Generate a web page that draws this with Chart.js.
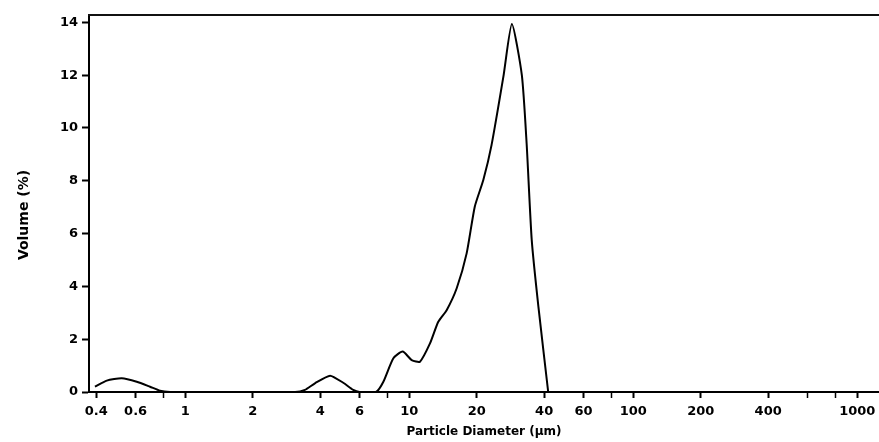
<!DOCTYPE html>
<html>
<head>
<meta charset="utf-8">
<script src="https://cdn.jsdelivr.net/npm/chart.js@4/dist/chart.umd.min.js"></script>
<style>
  html, body { margin: 0; padding: 0; background: #fff; overflow: hidden; }
  canvas { display: block; }
</style>
</head>
<body>
<canvas id="chart" width="879" height="442"></canvas>
<script>
/* Particle size distribution. */
const diameters = [
  0.395, 0.446, 0.52, 0.607, 0.696, 0.771, 0.855, 1.0,
  3.09, 3.42, 3.79, 4.43, 5.07, 5.62, 6.0,
  7.1, 7.66, 8.49, 9.34, 10.25, 11.16, 12.37, 13.47, 14.68, 16.28,
  18.03, 19.6, 21.4, 23.3, 26.3, 28.7, 31.8, 33.4, 35.2, 37.7, 41.7,
];
const volumes = [
  0.2, 0.43, 0.52, 0.39, 0.2, 0.05, 0, 0,
  0, 0.08, 0.33, 0.62, 0.35, 0.08, 0,
  0, 0.39, 1.28, 1.53, 1.21, 1.15, 1.84, 2.66, 3.1, 3.93,
  5.25, 7.02, 8.03, 9.36, 11.94, 13.94, 12.0, 9.42, 5.76, 3.23, 0,
];

const xTickValues = [0.4, 0.6, 0.8, 1, 2, 4, 6, 8, 10, 20, 40, 60, 80, 100, 200, 400, 600, 800, 1000];
const xTickLabels = ['0.4', '0.6', '', '1', '2', '4', '6', '', '10', '20', '40', '60', '', '100', '200', '400', '', '', '1000'];
const yTickValues = [0, 2, 4, 6, 8, 10, 12, 14];

const FONT = '"DejaVu Sans", "Liberation Sans", sans-serif';

/* Top frame line and the rotated y title, placed where the original has them. */
const frame = {
  id: 'frame',
  afterDraw(chart) {
    const { ctx, chartArea } = chart;
    ctx.save();
    ctx.strokeStyle = '#111';
    ctx.lineWidth = 2;
    ctx.beginPath();
    ctx.moveTo(chartArea.left - 1, chartArea.top);
    ctx.lineTo(chart.width, chartArea.top);
    ctx.stroke();

    ctx.translate(24, 215);
    ctx.rotate(-Math.PI / 2);
    ctx.fillStyle = '#000';
    ctx.font = `bold 14px ${FONT}`;
    ctx.textAlign = 'center';
    ctx.textBaseline = 'middle';
    ctx.fillText('Volume (%)', 0, 0);
    ctx.restore();
  },
};

new Chart(document.getElementById('chart'), {
  type: 'line',
  data: {
    datasets: [{
      data: diameters.map((d, i) => ({ x: d, y: volumes[i] })),
      borderColor: '#000',
      borderWidth: 2,
      pointRadius: 0,
      tension: 0.2,
      fill: false,
    }],
  },
  options: {
    responsive: false,
    animation: false,
    events: [],
    layout: { padding: { top: 15, left: 0, right: 0, bottom: 0 } },
    plugins: { legend: { display: false }, tooltip: { enabled: false } },
    scales: {
      x: {
        type: 'logarithmic',
        min: 0.3716,
        max: 1250,
        afterBuildTicks: (scale) => {
          scale.ticks = xTickValues.map((value) => ({ value }));
        },
        afterFit: (scale) => {
          scale.height = 50;
          // the plot runs right to the window edge, no room kept for labels
          scale.paddingLeft = 0;
          scale.paddingRight = 0;
        },
        border: { color: '#000', width: 2 },
        grid: {
          drawOnChartArea: false,
          tickLength: 6,
          tickColor: '#000',
          tickWidth: (c) => (xTickLabels[c.index] ? 2 : 1.5),
        },
        ticks: {
          autoSkip: false,
          maxRotation: 0,
          padding: 6,
          color: '#000',
          font: { family: FONT, size: 13, weight: 'bold' },
          callback: (value, index) => xTickLabels[index],
        },
        title: {
          display: true,
          text: 'Particle Diameter (μm)',
          color: '#000',
          font: { family: FONT, size: 12, weight: 'bold' },
          padding: { top: 0, bottom: 3 },
        },
      },
      y: {
        min: 0,
        max: 14.28,
        afterBuildTicks: (scale) => {
          scale.ticks = yTickValues.map((value) => ({ value }));
        },
        afterFit: (scale) => { scale.width = 89; },
        border: { color: '#000', width: 2 },
        grid: {
          drawOnChartArea: false,
          tickLength: 7,
          tickColor: '#000',
          tickWidth: 2,
        },
        ticks: {
          padding: 4,
          color: '#000',
          font: { family: FONT, size: 13, weight: 'bold' },
        },
      },
    },
  },
  plugins: [frame],
});
</script>
</body>
</html>
